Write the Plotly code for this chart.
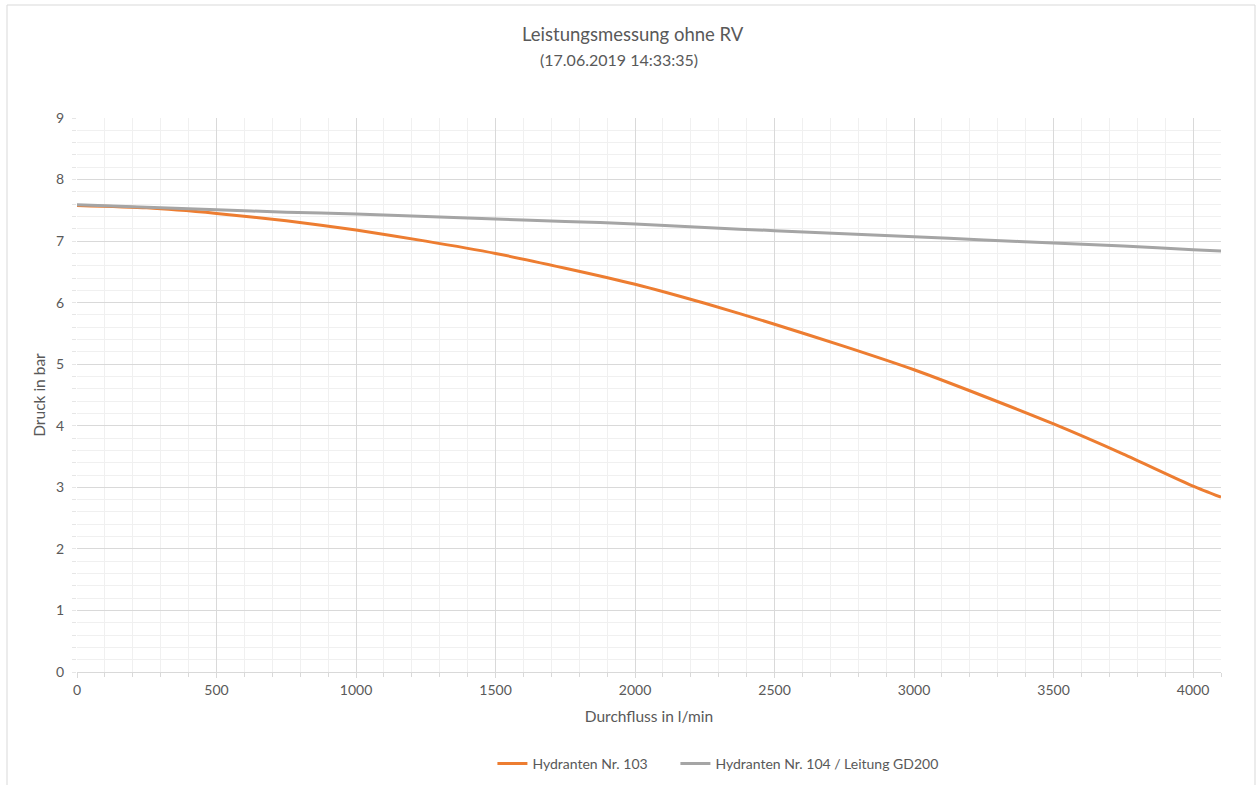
import plotly.graph_objects as go

# Durchfluss (l/min)
flow = [0, 250, 500, 750, 1000, 1250, 1500, 1750, 2000, 2250, 2500, 2750,
        3000, 3250, 3500, 3750, 4000, 4100]
# Druck (bar)
p_103 = [7.58, 7.54, 7.45, 7.33, 7.18, 7.00, 6.80, 6.56, 6.30, 5.99, 5.65, 5.29,
         4.91, 4.48, 4.03, 3.54, 3.02, 2.84]
p_104 = [7.59, 7.55, 7.51, 7.47, 7.44, 7.40, 7.36, 7.32, 7.28, 7.22, 7.17, 7.12,
         7.07, 7.02, 6.97, 6.92, 6.86, 6.84]

series_names = ["Hydranten Nr. 103", "Hydranten Nr. 104 / Leitung GD200"]
title_line1 = "Leistungsmessung ohne RV"
title_line2 = "(17.06.2019 14:33:35)"
x_title = "Durchfluss in l/min"
y_title = "Druck in bar"

FONT = "Lato, 'Open Sans', sans-serif"
TXT = "#595959"

fig = go.Figure()
fig.add_trace(go.Scatter(x=flow, y=p_103, mode="lines", name=series_names[0],
                         legend="legend",
                         line=dict(color="#ED7D31", width=3, shape="spline", smoothing=0.6)))
fig.add_trace(go.Scatter(x=flow, y=p_104, mode="lines", name=series_names[1],
                         legend="legend2",
                         line=dict(color="#A5A5A5", width=3, shape="spline", smoothing=0.6)))

L, R, T, B = 77, 1221, 118, 672
W, H = 1258, 785

def px(x):
    return (x - L) / (R - L)

def py(y):
    return (B - y) / (B - T)

leg_common = dict(orientation="h", xanchor="left", y=py(764), yanchor="middle",
                  font=dict(size=14, color=TXT), itemwidth=30, tracegroupgap=0,
                  bgcolor="rgba(0,0,0,0)")

fig.update_layout(
    width=W, height=H,
    margin=dict(l=L, r=W - R, t=T, b=H - B, autoexpand=False),
    paper_bgcolor="white", plot_bgcolor="white",
    font=dict(family=FONT, color=TXT, size=14),
    showlegend=True,
    legend=dict(x=px(497) - 0.004, **leg_common),
    legend2=dict(x=px(680) - 0.004, **leg_common),
    annotations=[
        dict(text=title_line1, x=px(633), y=py(34), xref="paper", yref="paper",
             showarrow=False, xanchor="center", yanchor="middle",
             font=dict(size=18.5, color=TXT, family=FONT)),
        dict(text=title_line2, x=px(619), y=py(59), xref="paper", yref="paper",
             showarrow=False, xanchor="center", yanchor="middle",
             font=dict(size=16, color=TXT, family=FONT)),
    ],
    shapes=[
        dict(type="rect", xref="paper", yref="paper",
             x0=px(7), x1=px(1255), y0=py(795), y1=py(5),
             line=dict(color="#d9d9d9", width=1), layer="below"),
    ],
)

fig.update_xaxes(
    range=[0, 4100], dtick=500, tick0=0,
    showgrid=True, gridcolor="#d9d9d9", gridwidth=1,
    ticks="outside", ticklen=5, tickcolor="#d9d9d9",
    showline=True, linecolor="#d9d9d9", linewidth=1,
    zeroline=False, mirror=False,
    tickfont=dict(size=14, color=TXT),
    minor=dict(dtick=100, showgrid=True, gridcolor="#f0f0f0", gridwidth=1,
               ticks="outside", ticklen=4, tickcolor="#d9d9d9"),
    title=dict(text=x_title, font=dict(size=15.5, color=TXT), standoff=14),
)
fig.update_yaxes(
    range=[0, 9], dtick=1, tick0=0,
    showgrid=True, gridcolor="#d9d9d9", gridwidth=1,
    ticks="outside", ticklen=4, tickcolor="#e6e6e6",
    ticklabelstandoff=5,
    showline=False, zeroline=False,
    tickfont=dict(size=14, color=TXT),
    minor=dict(dtick=0.2, showgrid=True, gridcolor="#f0f0f0", gridwidth=1,
               ticks="outside", ticklen=4, tickcolor="#e6e6e6"),
    title=dict(text=y_title, font=dict(size=15.5, color=TXT), standoff=6),
)

fig.write_html("out.html", config={"displayModeBar": False},
               post_script="document.body.style.margin='0';document.body.style.overflow='hidden';")
